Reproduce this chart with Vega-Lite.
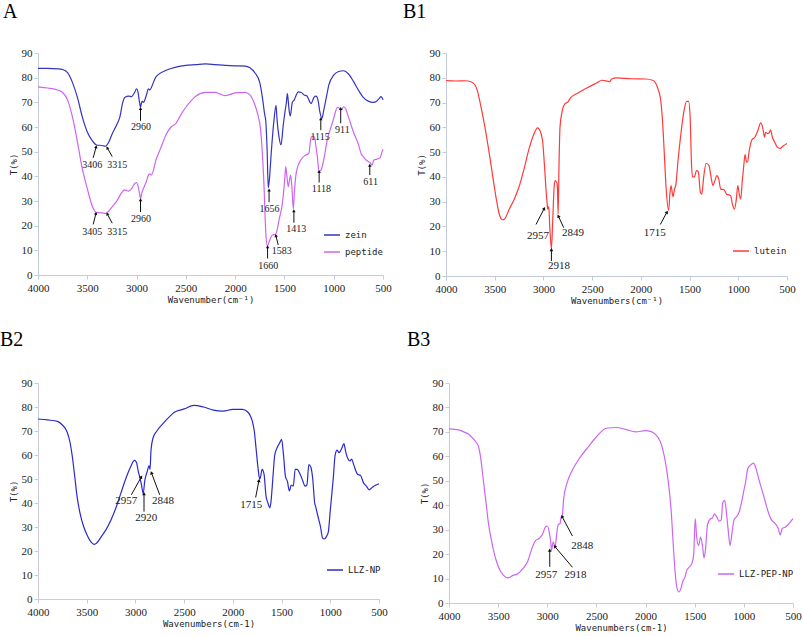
{
"$schema": "https://vega.github.io/schema/vega-lite/v6.json",
"padding": {"left": 0, "top": 2, "right": 0, "bottom": 0},
"background": "white",
"config": {
 "view": {"stroke": null},
 "axis": {"grid": false, "domainColor": "#c3cbdc", "tickColor": "#c3cbdc", "tickSize": 4, "labelFont": "Liberation Serif", "labelFontSize": 11, "labelColor": "#222", "labelOverlap": false, "titleFont": "DejaVu Sans Mono", "titleFontSize": 9, "titleFontWeight": "normal", "titleColor": "#222"},
 "axisX": {"labelPadding": 3, "titlePadding": 2, "labelFlush": false, "format": "d"},
 "axisY": {"labelPadding": 2, "titlePadding": 3},
 "legend": {"labelFont": "DejaVu Sans Mono", "labelFontSize": 9, "labelColor": "#222", "symbolType": "stroke", "symbolStrokeWidth": 1.5, "symbolSize": 256, "rowPadding": 3, "title": null, "padding": 0},
 "title": {"font": "Liberation Serif", "fontSize": 20, "fontWeight": "normal", "color": "#000", "anchor": "start", "frame": "group"}
},
"datasets": {
 "A": [
  {"w":4000,"t":83.8,"s":"zein"},{"w":3900,"t":83.8,"s":"zein"},{"w":3800,"t":83.6,"s":"zein"},{"w":3750,"t":83.3,"s":"zein"},{"w":3700,"t":82,"s":"zein"},{"w":3650,"t":78,"s":"zein"},{"w":3600,"t":72,"s":"zein"},{"w":3550,"t":64,"s":"zein"},{"w":3500,"t":58,"s":"zein"},{"w":3450,"t":54.5,"s":"zein"},{"w":3406,"t":52.7,"s":"zein"},{"w":3350,"t":52.5,"s":"zein"},{"w":3315,"t":52.2,"s":"zein"},{"w":3280,"t":54,"s":"zein"},{"w":3250,"t":57,"s":"zein"},{"w":3200,"t":61,"s":"zein"},{"w":3170,"t":64,"s":"zein"},{"w":3140,"t":70,"s":"zein"},{"w":3120,"t":72,"s":"zein"},{"w":3080,"t":72.5,"s":"zein"},{"w":3050,"t":72.3,"s":"zein"},{"w":3020,"t":74,"s":"zein"},{"w":3000,"t":75.5,"s":"zein"},{"w":2985,"t":74,"s":"zein"},{"w":2970,"t":70,"s":"zein"},{"w":2960,"t":68,"s":"zein"},{"w":2945,"t":70.5,"s":"zein"},{"w":2930,"t":70,"s":"zein"},{"w":2900,"t":73,"s":"zein"},{"w":2880,"t":75.5,"s":"zein"},{"w":2865,"t":75,"s":"zein"},{"w":2850,"t":76,"s":"zein"},{"w":2820,"t":79,"s":"zein"},{"w":2800,"t":80.5,"s":"zein"},{"w":2700,"t":83,"s":"zein"},{"w":2600,"t":84.3,"s":"zein"},{"w":2500,"t":85,"s":"zein"},{"w":2400,"t":85.3,"s":"zein"},{"w":2300,"t":85.6,"s":"zein"},{"w":2200,"t":85.3,"s":"zein"},{"w":2100,"t":85,"s":"zein"},{"w":2000,"t":84.8,"s":"zein"},{"w":1900,"t":84.7,"s":"zein"},{"w":1850,"t":84,"s":"zein"},{"w":1800,"t":82,"s":"zein"},{"w":1750,"t":78,"s":"zein"},{"w":1720,"t":71,"s":"zein"},{"w":1700,"t":65,"s":"zein"},{"w":1690,"t":62.8,"s":"zein"},{"w":1675,"t":50,"s":"zein"},{"w":1664,"t":35.3,"s":"zein"},{"w":1650,"t":40,"s":"zein"},{"w":1634,"t":49.4,"s":"zein"},{"w":1606,"t":62.8,"s":"zein"},{"w":1585,"t":68.8,"s":"zein"},{"w":1575,"t":63,"s":"zein"},{"w":1555,"t":56,"s":"zein"},{"w":1535,"t":52.7,"s":"zein"},{"w":1512,"t":60.7,"s":"zein"},{"w":1495,"t":66,"s":"zein"},{"w":1480,"t":70,"s":"zein"},{"w":1470,"t":73.5,"s":"zein"},{"w":1460,"t":70,"s":"zein"},{"w":1450,"t":66,"s":"zein"},{"w":1440,"t":64.5,"s":"zein"},{"w":1420,"t":70,"s":"zein"},{"w":1400,"t":71,"s":"zein"},{"w":1380,"t":73,"s":"zein"},{"w":1360,"t":74.2,"s":"zein"},{"w":1330,"t":74,"s":"zein"},{"w":1300,"t":73,"s":"zein"},{"w":1270,"t":72.5,"s":"zein"},{"w":1240,"t":70,"s":"zein"},{"w":1230,"t":69.5,"s":"zein"},{"w":1200,"t":72,"s":"zein"},{"w":1180,"t":72.5,"s":"zein"},{"w":1160,"t":71,"s":"zein"},{"w":1140,"t":66,"s":"zein"},{"w":1120,"t":63.5,"s":"zein"},{"w":1100,"t":67,"s":"zein"},{"w":1070,"t":73,"s":"zein"},{"w":1050,"t":77,"s":"zein"},{"w":1000,"t":81,"s":"zein"},{"w":950,"t":82.5,"s":"zein"},{"w":900,"t":82.8,"s":"zein"},{"w":850,"t":81.5,"s":"zein"},{"w":800,"t":78.5,"s":"zein"},{"w":750,"t":75,"s":"zein"},{"w":700,"t":72,"s":"zein"},{"w":650,"t":70.5,"s":"zein"},{"w":600,"t":70,"s":"zein"},{"w":570,"t":70.3,"s":"zein"},{"w":540,"t":71.5,"s":"zein"},{"w":520,"t":72.3,"s":"zein"},{"w":500,"t":71,"s":"zein"},
  {"w":4000,"t":76.3,"s":"peptide"},{"w":3900,"t":75.8,"s":"peptide"},{"w":3800,"t":75,"s":"peptide"},{"w":3750,"t":74,"s":"peptide"},{"w":3700,"t":71,"s":"peptide"},{"w":3650,"t":64,"s":"peptide"},{"w":3600,"t":54,"s":"peptide"},{"w":3550,"t":43,"s":"peptide"},{"w":3500,"t":35,"s":"peptide"},{"w":3450,"t":28,"s":"peptide"},{"w":3405,"t":25.3,"s":"peptide"},{"w":3350,"t":25.2,"s":"peptide"},{"w":3315,"t":25,"s":"peptide"},{"w":3280,"t":26,"s":"peptide"},{"w":3250,"t":27.5,"s":"peptide"},{"w":3200,"t":30,"s":"peptide"},{"w":3150,"t":33.5,"s":"peptide"},{"w":3120,"t":34.5,"s":"peptide"},{"w":3080,"t":34,"s":"peptide"},{"w":3050,"t":35,"s":"peptide"},{"w":3020,"t":37,"s":"peptide"},{"w":3000,"t":37.5,"s":"peptide"},{"w":2985,"t":36,"s":"peptide"},{"w":2970,"t":33,"s":"peptide"},{"w":2960,"t":31,"s":"peptide"},{"w":2945,"t":33.5,"s":"peptide"},{"w":2920,"t":36,"s":"peptide"},{"w":2900,"t":38,"s":"peptide"},{"w":2880,"t":40.5,"s":"peptide"},{"w":2865,"t":41,"s":"peptide"},{"w":2850,"t":40.5,"s":"peptide"},{"w":2800,"t":47,"s":"peptide"},{"w":2750,"t":52,"s":"peptide"},{"w":2700,"t":57,"s":"peptide"},{"w":2650,"t":60,"s":"peptide"},{"w":2600,"t":61.5,"s":"peptide"},{"w":2550,"t":65,"s":"peptide"},{"w":2500,"t":68,"s":"peptide"},{"w":2450,"t":70.5,"s":"peptide"},{"w":2400,"t":72.5,"s":"peptide"},{"w":2300,"t":74,"s":"peptide"},{"w":2200,"t":74,"s":"peptide"},{"w":2150,"t":73.3,"s":"peptide"},{"w":2100,"t":72.7,"s":"peptide"},{"w":2050,"t":73.2,"s":"peptide"},{"w":2000,"t":73.8,"s":"peptide"},{"w":1900,"t":74,"s":"peptide"},{"w":1850,"t":73,"s":"peptide"},{"w":1800,"t":69,"s":"peptide"},{"w":1770,"t":65,"s":"peptide"},{"w":1745,"t":60,"s":"peptide"},{"w":1725,"t":50,"s":"peptide"},{"w":1707,"t":36,"s":"peptide"},{"w":1690,"t":18,"s":"peptide"},{"w":1674,"t":11.8,"s":"peptide"},{"w":1650,"t":14,"s":"peptide"},{"w":1623,"t":16.2,"s":"peptide"},{"w":1590,"t":16.5,"s":"peptide"},{"w":1570,"t":19,"s":"peptide"},{"w":1555,"t":22.3,"s":"peptide"},{"w":1521,"t":29,"s":"peptide"},{"w":1504,"t":35.5,"s":"peptide"},{"w":1495,"t":40,"s":"peptide"},{"w":1487,"t":43.9,"s":"peptide"},{"w":1475,"t":40,"s":"peptide"},{"w":1461,"t":35.8,"s":"peptide"},{"w":1450,"t":38,"s":"peptide"},{"w":1437,"t":40.5,"s":"peptide"},{"w":1425,"t":36,"s":"peptide"},{"w":1410,"t":26.8,"s":"peptide"},{"w":1400,"t":33,"s":"peptide"},{"w":1385,"t":40,"s":"peptide"},{"w":1369,"t":43.4,"s":"peptide"},{"w":1335,"t":46.6,"s":"peptide"},{"w":1300,"t":48.2,"s":"peptide"},{"w":1284,"t":48.6,"s":"peptide"},{"w":1251,"t":49.4,"s":"peptide"},{"w":1240,"t":53,"s":"peptide"},{"w":1227,"t":56,"s":"peptide"},{"w":1210,"t":56.2,"s":"peptide"},{"w":1193,"t":55.5,"s":"peptide"},{"w":1180,"t":52,"s":"peptide"},{"w":1166,"t":48,"s":"peptide"},{"w":1149,"t":41.9,"s":"peptide"},{"w":1129,"t":42.5,"s":"peptide"},{"w":1110,"t":45,"s":"peptide"},{"w":1095,"t":48,"s":"peptide"},{"w":1065,"t":55,"s":"peptide"},{"w":1040,"t":58.5,"s":"peptide"},{"w":1000,"t":63.5,"s":"peptide"},{"w":980,"t":66.5,"s":"peptide"},{"w":960,"t":68,"s":"peptide"},{"w":940,"t":67.5,"s":"peptide"},{"w":920,"t":67,"s":"peptide"},{"w":900,"t":68.2,"s":"peptide"},{"w":880,"t":67.5,"s":"peptide"},{"w":850,"t":64,"s":"peptide"},{"w":800,"t":58,"s":"peptide"},{"w":750,"t":53,"s":"peptide"},{"w":720,"t":49,"s":"peptide"},{"w":700,"t":48,"s":"peptide"},{"w":680,"t":47,"s":"peptide"},{"w":650,"t":46,"s":"peptide"},{"w":630,"t":45.5,"s":"peptide"},{"w":611,"t":44.5,"s":"peptide"},{"w":595,"t":46.5,"s":"peptide"},{"w":560,"t":47,"s":"peptide"},{"w":530,"t":47.5,"s":"peptide"},{"w":510,"t":50,"s":"peptide"},{"w":500,"t":51,"s":"peptide"}
 ],
 "Aann": [
  {"label":"3406","tx":3450,"ty":44.5,"x1":3440,"y1":47.5,"x2":3410,"y2":52},
  {"label":"3315","tx":3197,"ty":44.5,"x1":3247,"y1":48,"x2":3298,"y2":51.6},
  {"label":"2960","tx":2954,"ty":60,"x1":2960,"y1":62.5,"x2":2960,"y2":67.5},
  {"label":"3405","tx":3450,"ty":17.3,"x1":3440,"y1":20.5,"x2":3412,"y2":25},
  {"label":"3315","tx":3197,"ty":17.3,"x1":3247,"y1":21,"x2":3298,"y2":24.8},
  {"label":"2960","tx":2954,"ty":22.7,"x1":2960,"y1":25.5,"x2":2960,"y2":30.5},
  {"label":"1656","tx":1651,"ty":26.6,"x1":1656,"y1":29.5,"x2":1656,"y2":34.5},
  {"label":"1660","tx":1665,"ty":3.8,"x1":1671,"y1":6.7,"x2":1671,"y2":11.5},
  {"label":"1583","tx":1526,"ty":9.9,"x1":1563,"y1":12.2,"x2":1587,"y2":16},
  {"label":"1413","tx":1381,"ty":18.5,"x1":1404,"y1":21.2,"x2":1404,"y2":26},
  {"label":"1115","tx":1138,"ty":56,"x1":1131,"y1":58.7,"x2":1131,"y2":63.3},
  {"label":"911","tx":912,"ty":58.8,"x1":929,"y1":61.5,"x2":929,"y2":67.5},
  {"label":"1118","tx":1124,"ty":34.7,"x1":1148,"y1":37.5,"x2":1148,"y2":42},
  {"label":"611","tx":625,"ty":37.7,"x1":634,"y1":40.5,"x2":634,"y2":44.5}
 ],
 "B1": [
  {"w":4000,"t":78.9,"s":"lutein"},{"w":3900,"t":78.7,"s":"lutein"},{"w":3800,"t":78.8,"s":"lutein"},{"w":3750,"t":78.5,"s":"lutein"},{"w":3700,"t":77,"s":"lutein"},{"w":3680,"t":75,"s":"lutein"},{"w":3650,"t":70,"s":"lutein"},{"w":3600,"t":60,"s":"lutein"},{"w":3550,"t":48,"s":"lutein"},{"w":3500,"t":35,"s":"lutein"},{"w":3470,"t":28,"s":"lutein"},{"w":3450,"t":24.5,"s":"lutein"},{"w":3420,"t":22.7,"s":"lutein"},{"w":3400,"t":23,"s":"lutein"},{"w":3350,"t":27,"s":"lutein"},{"w":3300,"t":31,"s":"lutein"},{"w":3250,"t":36,"s":"lutein"},{"w":3200,"t":43,"s":"lutein"},{"w":3150,"t":51,"s":"lutein"},{"w":3100,"t":57,"s":"lutein"},{"w":3060,"t":59.8,"s":"lutein"},{"w":3040,"t":59,"s":"lutein"},{"w":3010,"t":55,"s":"lutein"},{"w":2990,"t":45,"s":"lutein"},{"w":2970,"t":33,"s":"lutein"},{"w":2960,"t":28.5,"s":"lutein"},{"w":2957,"t":27,"s":"lutein"},{"w":2945,"t":28,"s":"lutein"},{"w":2935,"t":20,"s":"lutein"},{"w":2918,"t":11,"s":"lutein"},{"w":2905,"t":22,"s":"lutein"},{"w":2890,"t":36,"s":"lutein"},{"w":2880,"t":38.5,"s":"lutein"},{"w":2860,"t":37.5,"s":"lutein"},{"w":2855,"t":34,"s":"lutein"},{"w":2849,"t":25,"s":"lutein"},{"w":2840,"t":45,"s":"lutein"},{"w":2830,"t":60,"s":"lutein"},{"w":2810,"t":66,"s":"lutein"},{"w":2780,"t":69.5,"s":"lutein"},{"w":2750,"t":70.2,"s":"lutein"},{"w":2720,"t":72,"s":"lutein"},{"w":2650,"t":73.8,"s":"lutein"},{"w":2550,"t":76,"s":"lutein"},{"w":2450,"t":78,"s":"lutein"},{"w":2400,"t":79,"s":"lutein"},{"w":2350,"t":78.7,"s":"lutein"},{"w":2320,"t":78.4,"s":"lutein"},{"w":2300,"t":79.5,"s":"lutein"},{"w":2250,"t":80,"s":"lutein"},{"w":2100,"t":79.6,"s":"lutein"},{"w":1950,"t":79.5,"s":"lutein"},{"w":1880,"t":79,"s":"lutein"},{"w":1850,"t":78,"s":"lutein"},{"w":1820,"t":75,"s":"lutein"},{"w":1800,"t":72,"s":"lutein"},{"w":1780,"t":64,"s":"lutein"},{"w":1760,"t":50,"s":"lutein"},{"w":1740,"t":35,"s":"lutein"},{"w":1715,"t":26.5,"s":"lutein"},{"w":1700,"t":34,"s":"lutein"},{"w":1690,"t":36.5,"s":"lutein"},{"w":1670,"t":32,"s":"lutein"},{"w":1655,"t":35,"s":"lutein"},{"w":1640,"t":37,"s":"lutein"},{"w":1620,"t":46,"s":"lutein"},{"w":1590,"t":57,"s":"lutein"},{"w":1560,"t":66,"s":"lutein"},{"w":1530,"t":70.5,"s":"lutein"},{"w":1510,"t":70.5,"s":"lutein"},{"w":1495,"t":65,"s":"lutein"},{"w":1480,"t":45,"s":"lutein"},{"w":1470,"t":40,"s":"lutein"},{"w":1450,"t":40,"s":"lutein"},{"w":1430,"t":42.5,"s":"lutein"},{"w":1410,"t":42,"s":"lutein"},{"w":1390,"t":34,"s":"lutein"},{"w":1375,"t":33,"s":"lutein"},{"w":1355,"t":40,"s":"lutein"},{"w":1330,"t":45.5,"s":"lutein"},{"w":1300,"t":44.5,"s":"lutein"},{"w":1280,"t":40,"s":"lutein"},{"w":1260,"t":36.5,"s":"lutein"},{"w":1240,"t":38.5,"s":"lutein"},{"w":1220,"t":40.5,"s":"lutein"},{"w":1200,"t":39,"s":"lutein"},{"w":1180,"t":35,"s":"lutein"},{"w":1150,"t":35,"s":"lutein"},{"w":1120,"t":33,"s":"lutein"},{"w":1080,"t":32.5,"s":"lutein"},{"w":1060,"t":29,"s":"lutein"},{"w":1040,"t":27,"s":"lutein"},{"w":1020,"t":31,"s":"lutein"},{"w":1005,"t":36.5,"s":"lutein"},{"w":990,"t":33,"s":"lutein"},{"w":975,"t":31,"s":"lutein"},{"w":960,"t":38,"s":"lutein"},{"w":945,"t":44,"s":"lutein"},{"w":930,"t":49,"s":"lutein"},{"w":915,"t":46,"s":"lutein"},{"w":905,"t":46,"s":"lutein"},{"w":890,"t":50,"s":"lutein"},{"w":860,"t":55,"s":"lutein"},{"w":830,"t":56,"s":"lutein"},{"w":800,"t":58.5,"s":"lutein"},{"w":770,"t":61.8,"s":"lutein"},{"w":750,"t":60,"s":"lutein"},{"w":730,"t":56,"s":"lutein"},{"w":720,"t":58,"s":"lutein"},{"w":700,"t":57.5,"s":"lutein"},{"w":680,"t":58,"s":"lutein"},{"w":670,"t":59,"s":"lutein"},{"w":650,"t":56,"s":"lutein"},{"w":620,"t":53.5,"s":"lutein"},{"w":600,"t":52,"s":"lutein"},{"w":570,"t":51.5,"s":"lutein"},{"w":540,"t":52.5,"s":"lutein"},{"w":500,"t":53.5,"s":"lutein"}
 ],
 "B1ann": [
  {"label":"2957","tx":3056,"ty":16.3,"x1":3076,"y1":20.8,"x2":2991,"y2":27.3},
  {"label":"2918","tx":2840,"ty":3.9,"x1":2918,"y1":6,"x2":2918,"y2":10.6},
  {"label":"2849","tx":2696,"ty":17.3,"x1":2792,"y1":19.5,"x2":2847,"y2":24.2},
  {"label":"1715","tx":1858,"ty":17.2,"x1":1800,"y1":20.8,"x2":1732,"y2":25.8}
 ],
 "B2": [
  {"w":4000,"t":75,"s":"LLZ-NP"},{"w":3900,"t":74.6,"s":"LLZ-NP"},{"w":3800,"t":74,"s":"LLZ-NP"},{"w":3750,"t":72.5,"s":"LLZ-NP"},{"w":3700,"t":69.5,"s":"LLZ-NP"},{"w":3670,"t":65,"s":"LLZ-NP"},{"w":3650,"t":60,"s":"LLZ-NP"},{"w":3620,"t":50,"s":"LLZ-NP"},{"w":3600,"t":43,"s":"LLZ-NP"},{"w":3570,"t":36,"s":"LLZ-NP"},{"w":3530,"t":30,"s":"LLZ-NP"},{"w":3500,"t":27,"s":"LLZ-NP"},{"w":3450,"t":23.5,"s":"LLZ-NP"},{"w":3420,"t":22.8,"s":"LLZ-NP"},{"w":3400,"t":23.2,"s":"LLZ-NP"},{"w":3350,"t":26,"s":"LLZ-NP"},{"w":3300,"t":29,"s":"LLZ-NP"},{"w":3250,"t":33,"s":"LLZ-NP"},{"w":3200,"t":38,"s":"LLZ-NP"},{"w":3150,"t":44,"s":"LLZ-NP"},{"w":3100,"t":50,"s":"LLZ-NP"},{"w":3050,"t":55,"s":"LLZ-NP"},{"w":3010,"t":57.8,"s":"LLZ-NP"},{"w":2990,"t":57,"s":"LLZ-NP"},{"w":2970,"t":53,"s":"LLZ-NP"},{"w":2957,"t":51,"s":"LLZ-NP"},{"w":2940,"t":48,"s":"LLZ-NP"},{"w":2920,"t":44,"s":"LLZ-NP"},{"w":2905,"t":49,"s":"LLZ-NP"},{"w":2880,"t":53,"s":"LLZ-NP"},{"w":2860,"t":55.5,"s":"LLZ-NP"},{"w":2850,"t":54,"s":"LLZ-NP"},{"w":2840,"t":62,"s":"LLZ-NP"},{"w":2820,"t":67,"s":"LLZ-NP"},{"w":2780,"t":70,"s":"LLZ-NP"},{"w":2720,"t":73,"s":"LLZ-NP"},{"w":2650,"t":76,"s":"LLZ-NP"},{"w":2600,"t":77.8,"s":"LLZ-NP"},{"w":2500,"t":79.2,"s":"LLZ-NP"},{"w":2400,"t":80.7,"s":"LLZ-NP"},{"w":2300,"t":80,"s":"LLZ-NP"},{"w":2200,"t":78.7,"s":"LLZ-NP"},{"w":2100,"t":78.3,"s":"LLZ-NP"},{"w":2000,"t":79,"s":"LLZ-NP"},{"w":1900,"t":79,"s":"LLZ-NP"},{"w":1850,"t":78,"s":"LLZ-NP"},{"w":1800,"t":74,"s":"LLZ-NP"},{"w":1780,"t":70,"s":"LLZ-NP"},{"w":1760,"t":62,"s":"LLZ-NP"},{"w":1740,"t":54,"s":"LLZ-NP"},{"w":1725,"t":50,"s":"LLZ-NP"},{"w":1715,"t":51,"s":"LLZ-NP"},{"w":1700,"t":54,"s":"LLZ-NP"},{"w":1680,"t":52,"s":"LLZ-NP"},{"w":1660,"t":43,"s":"LLZ-NP"},{"w":1640,"t":40,"s":"LLZ-NP"},{"w":1620,"t":38,"s":"LLZ-NP"},{"w":1610,"t":40,"s":"LLZ-NP"},{"w":1590,"t":50,"s":"LLZ-NP"},{"w":1570,"t":60,"s":"LLZ-NP"},{"w":1540,"t":63.5,"s":"LLZ-NP"},{"w":1520,"t":65,"s":"LLZ-NP"},{"w":1500,"t":66.5,"s":"LLZ-NP"},{"w":1480,"t":60,"s":"LLZ-NP"},{"w":1460,"t":51,"s":"LLZ-NP"},{"w":1440,"t":49,"s":"LLZ-NP"},{"w":1420,"t":45,"s":"LLZ-NP"},{"w":1400,"t":47.5,"s":"LLZ-NP"},{"w":1380,"t":47,"s":"LLZ-NP"},{"w":1360,"t":54,"s":"LLZ-NP"},{"w":1340,"t":54,"s":"LLZ-NP"},{"w":1310,"t":52,"s":"LLZ-NP"},{"w":1280,"t":49,"s":"LLZ-NP"},{"w":1260,"t":47,"s":"LLZ-NP"},{"w":1240,"t":47.5,"s":"LLZ-NP"},{"w":1220,"t":56,"s":"LLZ-NP"},{"w":1200,"t":55,"s":"LLZ-NP"},{"w":1180,"t":50,"s":"LLZ-NP"},{"w":1160,"t":40,"s":"LLZ-NP"},{"w":1150,"t":38.5,"s":"LLZ-NP"},{"w":1130,"t":35,"s":"LLZ-NP"},{"w":1100,"t":30,"s":"LLZ-NP"},{"w":1080,"t":25.5,"s":"LLZ-NP"},{"w":1060,"t":25,"s":"LLZ-NP"},{"w":1040,"t":26,"s":"LLZ-NP"},{"w":1020,"t":28,"s":"LLZ-NP"},{"w":1000,"t":37,"s":"LLZ-NP"},{"w":970,"t":50,"s":"LLZ-NP"},{"w":950,"t":60,"s":"LLZ-NP"},{"w":930,"t":62,"s":"LLZ-NP"},{"w":910,"t":61,"s":"LLZ-NP"},{"w":880,"t":63,"s":"LLZ-NP"},{"w":860,"t":64.7,"s":"LLZ-NP"},{"w":840,"t":61,"s":"LLZ-NP"},{"w":820,"t":58.5,"s":"LLZ-NP"},{"w":800,"t":57.5,"s":"LLZ-NP"},{"w":780,"t":58.3,"s":"LLZ-NP"},{"w":760,"t":56,"s":"LLZ-NP"},{"w":720,"t":52,"s":"LLZ-NP"},{"w":690,"t":51.5,"s":"LLZ-NP"},{"w":660,"t":48.5,"s":"LLZ-NP"},{"w":630,"t":47,"s":"LLZ-NP"},{"w":600,"t":45.5,"s":"LLZ-NP"},{"w":570,"t":46.5,"s":"LLZ-NP"},{"w":530,"t":47.5,"s":"LLZ-NP"},{"w":500,"t":48,"s":"LLZ-NP"}
 ],
 "B2ann": [
  {"label":"2957","tx":3093,"ty":40.9,"x1":3042,"y1":43.4,"x2":2939,"y2":50.9},
  {"label":"2920","tx":2888,"ty":33.9,"x1":2912,"y1":36.4,"x2":2912,"y2":43.9},
  {"label":"2848","tx":2717,"ty":40.9,"x1":2751,"y1":43.4,"x2":2836,"y2":52.6},
  {"label":"1715","tx":1810,"ty":39.2,"x1":1766,"y1":42.3,"x2":1732,"y2":49.4}
 ],
 "B3": [
  {"w":4000,"t":71.2,"s":"LLZ-PEP-NP"},{"w":3900,"t":70.8,"s":"LLZ-PEP-NP"},{"w":3850,"t":70,"s":"LLZ-PEP-NP"},{"w":3800,"t":69,"s":"LLZ-PEP-NP"},{"w":3750,"t":67,"s":"LLZ-PEP-NP"},{"w":3700,"t":64,"s":"LLZ-PEP-NP"},{"w":3680,"t":60,"s":"LLZ-PEP-NP"},{"w":3650,"t":50,"s":"LLZ-PEP-NP"},{"w":3620,"t":40,"s":"LLZ-PEP-NP"},{"w":3600,"t":33,"s":"LLZ-PEP-NP"},{"w":3570,"t":26,"s":"LLZ-PEP-NP"},{"w":3550,"t":22,"s":"LLZ-PEP-NP"},{"w":3500,"t":15,"s":"LLZ-PEP-NP"},{"w":3450,"t":11.5,"s":"LLZ-PEP-NP"},{"w":3400,"t":10.3,"s":"LLZ-PEP-NP"},{"w":3350,"t":11.3,"s":"LLZ-PEP-NP"},{"w":3300,"t":12,"s":"LLZ-PEP-NP"},{"w":3250,"t":14,"s":"LLZ-PEP-NP"},{"w":3200,"t":17,"s":"LLZ-PEP-NP"},{"w":3150,"t":23,"s":"LLZ-PEP-NP"},{"w":3120,"t":25.5,"s":"LLZ-PEP-NP"},{"w":3080,"t":26.5,"s":"LLZ-PEP-NP"},{"w":3050,"t":28,"s":"LLZ-PEP-NP"},{"w":3020,"t":31,"s":"LLZ-PEP-NP"},{"w":3000,"t":31.5,"s":"LLZ-PEP-NP"},{"w":2980,"t":29,"s":"LLZ-PEP-NP"},{"w":2960,"t":23,"s":"LLZ-PEP-NP"},{"w":2957,"t":21.5,"s":"LLZ-PEP-NP"},{"w":2940,"t":25,"s":"LLZ-PEP-NP"},{"w":2930,"t":24,"s":"LLZ-PEP-NP"},{"w":2918,"t":23.5,"s":"LLZ-PEP-NP"},{"w":2905,"t":28,"s":"LLZ-PEP-NP"},{"w":2890,"t":32,"s":"LLZ-PEP-NP"},{"w":2870,"t":32.5,"s":"LLZ-PEP-NP"},{"w":2860,"t":35,"s":"LLZ-PEP-NP"},{"w":2848,"t":35.5,"s":"LLZ-PEP-NP"},{"w":2835,"t":42,"s":"LLZ-PEP-NP"},{"w":2800,"t":49,"s":"LLZ-PEP-NP"},{"w":2750,"t":54,"s":"LLZ-PEP-NP"},{"w":2700,"t":57.5,"s":"LLZ-PEP-NP"},{"w":2650,"t":60.5,"s":"LLZ-PEP-NP"},{"w":2600,"t":63,"s":"LLZ-PEP-NP"},{"w":2500,"t":68,"s":"LLZ-PEP-NP"},{"w":2400,"t":71.5,"s":"LLZ-PEP-NP"},{"w":2300,"t":71.8,"s":"LLZ-PEP-NP"},{"w":2200,"t":71,"s":"LLZ-PEP-NP"},{"w":2100,"t":70,"s":"LLZ-PEP-NP"},{"w":2000,"t":70.5,"s":"LLZ-PEP-NP"},{"w":1950,"t":70.2,"s":"LLZ-PEP-NP"},{"w":1900,"t":69,"s":"LLZ-PEP-NP"},{"w":1850,"t":66,"s":"LLZ-PEP-NP"},{"w":1800,"t":58,"s":"LLZ-PEP-NP"},{"w":1770,"t":50,"s":"LLZ-PEP-NP"},{"w":1740,"t":38,"s":"LLZ-PEP-NP"},{"w":1720,"t":25,"s":"LLZ-PEP-NP"},{"w":1700,"t":13,"s":"LLZ-PEP-NP"},{"w":1680,"t":6,"s":"LLZ-PEP-NP"},{"w":1660,"t":4.5,"s":"LLZ-PEP-NP"},{"w":1640,"t":6,"s":"LLZ-PEP-NP"},{"w":1620,"t":9,"s":"LLZ-PEP-NP"},{"w":1600,"t":10.5,"s":"LLZ-PEP-NP"},{"w":1580,"t":13.5,"s":"LLZ-PEP-NP"},{"w":1560,"t":14.5,"s":"LLZ-PEP-NP"},{"w":1530,"t":16,"s":"LLZ-PEP-NP"},{"w":1510,"t":20,"s":"LLZ-PEP-NP"},{"w":1495,"t":34.5,"s":"LLZ-PEP-NP"},{"w":1480,"t":27,"s":"LLZ-PEP-NP"},{"w":1460,"t":23.5,"s":"LLZ-PEP-NP"},{"w":1440,"t":27,"s":"LLZ-PEP-NP"},{"w":1420,"t":23,"s":"LLZ-PEP-NP"},{"w":1405,"t":18.5,"s":"LLZ-PEP-NP"},{"w":1390,"t":22,"s":"LLZ-PEP-NP"},{"w":1370,"t":32,"s":"LLZ-PEP-NP"},{"w":1340,"t":34.5,"s":"LLZ-PEP-NP"},{"w":1320,"t":34.8,"s":"LLZ-PEP-NP"},{"w":1300,"t":36.5,"s":"LLZ-PEP-NP"},{"w":1280,"t":35.5,"s":"LLZ-PEP-NP"},{"w":1250,"t":33.5,"s":"LLZ-PEP-NP"},{"w":1230,"t":34,"s":"LLZ-PEP-NP"},{"w":1215,"t":41,"s":"LLZ-PEP-NP"},{"w":1195,"t":42,"s":"LLZ-PEP-NP"},{"w":1180,"t":38,"s":"LLZ-PEP-NP"},{"w":1160,"t":30,"s":"LLZ-PEP-NP"},{"w":1140,"t":23.5,"s":"LLZ-PEP-NP"},{"w":1120,"t":29,"s":"LLZ-PEP-NP"},{"w":1100,"t":34,"s":"LLZ-PEP-NP"},{"w":1070,"t":35.5,"s":"LLZ-PEP-NP"},{"w":1050,"t":37,"s":"LLZ-PEP-NP"},{"w":1030,"t":40,"s":"LLZ-PEP-NP"},{"w":1000,"t":46,"s":"LLZ-PEP-NP"},{"w":980,"t":50,"s":"LLZ-PEP-NP"},{"w":960,"t":55,"s":"LLZ-PEP-NP"},{"w":930,"t":56.5,"s":"LLZ-PEP-NP"},{"w":900,"t":57.2,"s":"LLZ-PEP-NP"},{"w":880,"t":55.5,"s":"LLZ-PEP-NP"},{"w":850,"t":51,"s":"LLZ-PEP-NP"},{"w":800,"t":44,"s":"LLZ-PEP-NP"},{"w":750,"t":37,"s":"LLZ-PEP-NP"},{"w":720,"t":34,"s":"LLZ-PEP-NP"},{"w":680,"t":32.5,"s":"LLZ-PEP-NP"},{"w":650,"t":30.5,"s":"LLZ-PEP-NP"},{"w":630,"t":27.8,"s":"LLZ-PEP-NP"},{"w":610,"t":30.5,"s":"LLZ-PEP-NP"},{"w":580,"t":31,"s":"LLZ-PEP-NP"},{"w":550,"t":32,"s":"LLZ-PEP-NP"},{"w":520,"t":33.5,"s":"LLZ-PEP-NP"},{"w":500,"t":34.5,"s":"LLZ-PEP-NP"}
 ],
 "B3ann": [
  {"label":"2957","tx":3010,"ty":11.5,"x1":2975,"y1":14.8,"x2":2975,"y2":21.6},
  {"label":"2918","tx":2714,"ty":11.5,"x1":2744,"y1":14.6,"x2":2925,"y2":23.2},
  {"label":"2848","tx":2643,"ty":23.2,"x1":2744,"y1":27.4,"x2":2850,"y2":35.4}
 ]
},
"spacing": 25,
"resolve": {"scale": {"color": "independent"}, "legend": {"color": "independent"}},
"vconcat": [
 {
  "spacing": 11,
  "resolve": {"scale": {"color": "independent"}, "legend": {"color": "independent"}},
  "hconcat": [
   {
    "width": 345, "height": 222,
    "title": {"text": "A", "dx": -35, "offset": 25},
    "encoding": {
     "x": {"type": "quantitative", "scale": {"domain": [4000, 500], "nice": false, "zero": false}, "axis": {"values": [4000,3500,3000,2500,2000,1500,1000,500], "labelOverlap": false, "title": "Wavenumber(cm⁻¹)"}},
     "y": {"type": "quantitative", "scale": {"domain": [0, 90], "nice": false}, "axis": {"values": [0,10,20,30,40,50,60,70,80,90], "labelOverlap": false, "title": "T(%)"}}
    },
    "layer": [
     {"data": {"name": "A"}, "mark": {"type": "line", "strokeWidth": 1.2, "interpolate": "monotone"},
      "encoding": {
       "x": {"field": "w"}, "y": {"field": "t"},
       "color": {"field": "s", "type": "nominal", "scale": {"domain": ["zein", "peptide"], "range": ["#3434c0", "#cc66f2"]}, "legend": {"orient": "none", "legendX": 285, "legendY": 173}}
      }},
     {"data": {"name": "Aann"}, "mark": {"type": "rule", "color": "#111", "strokeWidth": 1},
      "encoding": {"x": {"field": "x1"}, "y": {"field": "y1"}, "x2": {"field": "x2"}, "y2": {"field": "y2"}}},
     {"data": {"name": "Aann"}, "transform": [{"calculate": "atan2((datum.x1-datum.x2)*0.0986,(datum.y2-datum.y1)*2.467)*180/PI", "as": "ang"}],
      "mark": {"type": "point", "shape": "triangle-up", "filled": true, "color": "#111", "size": 12, "opacity": 1},
      "encoding": {"x": {"field": "x2"}, "y": {"field": "y2"}, "angle": {"field": "ang", "type": "quantitative", "scale": null}}},
     {"data": {"name": "Aann"}, "mark": {"type": "text", "font": "Liberation Serif", "fontSize": 10, "color": "#222"},
      "encoding": {"x": {"field": "tx"}, "y": {"field": "ty"}, "text": {"field": "label"}}}
    ]
   },
   {
    "width": 341, "height": 223,
    "title": {"text": "B1", "dx": -43, "offset": 25},
    "encoding": {
     "x": {"type": "quantitative", "scale": {"domain": [4000, 500], "nice": false, "zero": false}, "axis": {"values": [4000,3500,3000,2500,2000,1500,1000,500], "labelOverlap": false, "title": "Wavenumbers(cm⁻¹)"}},
     "y": {"type": "quantitative", "scale": {"domain": [0, 90], "nice": false}, "axis": {"values": [0,10,20,30,40,50,60,70,80,90], "labelOverlap": false, "title": "T(%)"}}
    },
    "layer": [
     {"data": {"name": "B1"}, "mark": {"type": "line", "strokeWidth": 1.2, "interpolate": "monotone"},
      "encoding": {
       "x": {"field": "w"}, "y": {"field": "t"},
       "color": {"field": "s", "type": "nominal", "scale": {"domain": ["lutein"], "range": ["#ff3a3a"]}, "legend": {"orient": "none", "legendX": 286, "legendY": 189}}
      }},
     {"data": {"name": "B1ann"}, "mark": {"type": "rule", "color": "#111", "strokeWidth": 1},
      "encoding": {"x": {"field": "x1"}, "y": {"field": "y1"}, "x2": {"field": "x2"}, "y2": {"field": "y2"}}},
     {"data": {"name": "B1ann"}, "transform": [{"calculate": "atan2((datum.x1-datum.x2)*0.0974,(datum.y2-datum.y1)*2.478)*180/PI", "as": "ang"}],
      "mark": {"type": "point", "shape": "triangle-up", "filled": true, "color": "#111", "size": 14, "opacity": 1},
      "encoding": {"x": {"field": "x2"}, "y": {"field": "y2"}, "angle": {"field": "ang", "type": "quantitative", "scale": null}}},
     {"data": {"name": "B1ann"}, "mark": {"type": "text", "font": "Liberation Serif", "fontSize": 11, "color": "#222"},
      "encoding": {"x": {"field": "tx"}, "y": {"field": "ty"}, "text": {"field": "label"}}}
    ]
   }
  ]
 },
 {
  "spacing": 19,
  "resolve": {"scale": {"color": "independent"}, "legend": {"color": "independent"}},
  "hconcat": [
   {
    "width": 341, "height": 216,
    "title": {"text": "B2", "dx": -38, "offset": 27},
    "encoding": {
     "x": {"type": "quantitative", "scale": {"domain": [4000, 500], "nice": false, "zero": false}, "axis": {"values": [4000,3500,3000,2500,2000,1500,1000,500], "labelOverlap": false, "title": "Wavenumbers(cm-1)"}},
     "y": {"type": "quantitative", "scale": {"domain": [0, 90], "nice": false}, "axis": {"values": [0,10,20,30,40,50,60,70,80,90], "labelOverlap": false, "title": "T(%)"}}
    },
    "layer": [
     {"data": {"name": "B2"}, "mark": {"type": "line", "strokeWidth": 1.2, "interpolate": "monotone"},
      "encoding": {
       "x": {"field": "w"}, "y": {"field": "t"},
       "color": {"field": "s", "type": "nominal", "scale": {"domain": ["LLZ-NP"], "range": ["#2a2acc"]}, "legend": {"orient": "none", "legendX": 288, "legendY": 178}}
      }},
     {"data": {"name": "B2ann"}, "mark": {"type": "rule", "color": "#111", "strokeWidth": 1},
      "encoding": {"x": {"field": "x1"}, "y": {"field": "y1"}, "x2": {"field": "x2"}, "y2": {"field": "y2"}}},
     {"data": {"name": "B2ann"}, "transform": [{"calculate": "atan2((datum.x1-datum.x2)*0.0974,(datum.y2-datum.y1)*2.4)*180/PI", "as": "ang"}],
      "mark": {"type": "point", "shape": "triangle-up", "filled": true, "color": "#111", "size": 14, "opacity": 1},
      "encoding": {"x": {"field": "x2"}, "y": {"field": "y2"}, "angle": {"field": "ang", "type": "quantitative", "scale": null}}},
     {"data": {"name": "B2ann"}, "mark": {"type": "text", "font": "Liberation Serif", "fontSize": 11, "color": "#222"},
      "encoding": {"x": {"field": "tx"}, "y": {"field": "ty"}, "text": {"field": "label"}}}
    ]
   },
   {
    "width": 344, "height": 220,
    "title": {"text": "B3", "dx": -42, "offset": 27},
    "encoding": {
     "x": {"type": "quantitative", "scale": {"domain": [4000, 500], "nice": false, "zero": false}, "axis": {"values": [4000,3500,3000,2500,2000,1500,1000,500], "labelOverlap": false, "title": "Wavenumbers(cm-1)"}},
     "y": {"type": "quantitative", "scale": {"domain": [0, 90], "nice": false}, "axis": {"values": [0,10,20,30,40,50,60,70,80,90], "labelOverlap": false, "title": "T(%)"}}
    },
    "layer": [
     {"data": {"name": "B3"}, "mark": {"type": "line", "strokeWidth": 1.2, "interpolate": "monotone"},
      "encoding": {
       "x": {"field": "w"}, "y": {"field": "t"},
       "color": {"field": "s", "type": "nominal", "scale": {"domain": ["LLZ-PEP-NP"], "range": ["#cc66f2"]}, "legend": {"orient": "none", "legendX": 268, "legendY": 182}}
      }},
     {"data": {"name": "B3ann"}, "mark": {"type": "rule", "color": "#111", "strokeWidth": 1},
      "encoding": {"x": {"field": "x1"}, "y": {"field": "y1"}, "x2": {"field": "x2"}, "y2": {"field": "y2"}}},
     {"data": {"name": "B3ann"}, "transform": [{"calculate": "atan2((datum.x1-datum.x2)*0.0983,(datum.y2-datum.y1)*2.444)*180/PI", "as": "ang"}],
      "mark": {"type": "point", "shape": "triangle-up", "filled": true, "color": "#111", "size": 14, "opacity": 1},
      "encoding": {"x": {"field": "x2"}, "y": {"field": "y2"}, "angle": {"field": "ang", "type": "quantitative", "scale": null}}},
     {"data": {"name": "B3ann"}, "mark": {"type": "text", "font": "Liberation Serif", "fontSize": 11, "color": "#222"},
      "encoding": {"x": {"field": "tx"}, "y": {"field": "ty"}, "text": {"field": "label"}}}
    ]
   }
  ]
 }
]
}
